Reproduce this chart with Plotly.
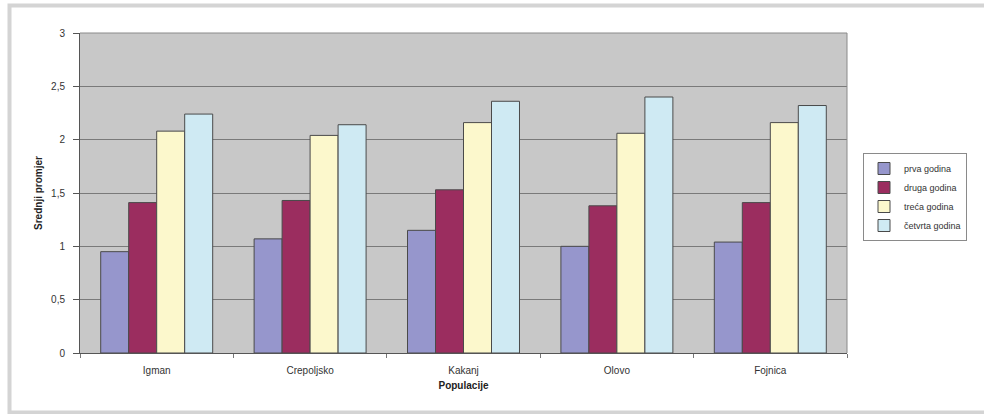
import plotly.graph_objects as go

categories = ["Igman", "Crepoljsko", "Kakanj", "Olovo", "Fojnica"]
series_names = ["prva godina", "druga godina", "treća godina", "četvrta godina"]
prva = [0.95, 1.07, 1.15, 1.00, 1.04]
druga = [1.41, 1.43, 1.53, 1.38, 1.41]
treca = [2.08, 2.04, 2.16, 2.06, 2.16]
cetvrta = [2.24, 2.14, 2.36, 2.40, 2.32]
y_ticks = [0, 0.5, 1, 1.5, 2, 2.5, 3]
y_tick_labels = ["0", "0,5", "1", "1,5", "2", "2,5", "3"]

colors = ["#9696cc", "#9b2d5f", "#fcf8cc", "#cfeaf3"]
values = [prva, druga, treca, cetvrta]

fig = go.Figure()
for name, vals, col in zip(series_names, values, colors):
    fig.add_trace(go.Bar(
        x=categories, y=vals, name=name,
        marker=dict(color=col, line=dict(color="#4a4a4a", width=1)),
    ))

L, R, T, B = 80, 984 - 847, 33, 414 - 353
W, H = 984 - L - R, 414 - T - B

def px(x):
    return (x - L) / W

def py(y):
    return (414 - B - y) / H

fig.update_layout(
    width=984, height=414,
    margin=dict(l=L, r=R, t=T, b=B, pad=0, autoexpand=False),
    paper_bgcolor="white",
    plot_bgcolor="#c8c8c8",
    barmode="group",
    bargap=0.27,
    bargroupgap=0,
    font=dict(family="Liberation Sans, Arial", size=10, color="#222"),
    showlegend=True,
    legend=dict(
        x=px(863), y=py(153), xanchor="left", yanchor="top",
        bgcolor="white", bordercolor="#8a8a8a", borderwidth=1,
        font=dict(size=9, color="#333"),
        itemwidth=30, tracegroupgap=0,
    ),
    xaxis=dict(
        showline=True, linecolor="#555", linewidth=1,
        ticks="outside", tickson="boundaries", ticklen=4, tickcolor="#777",
        ticklabelstandoff=8,
        tickfont=dict(size=10, color="#333"),
        title=dict(text="<b>Populacije</b>", font=dict(size=10, color="#222"), standoff=6),
        mirror=False,
    ),
    yaxis=dict(
        range=[0, 3], tickvals=y_ticks, ticktext=y_tick_labels,
        showgrid=True, gridcolor="#7a7a7a", gridwidth=1,
        showline=True, linecolor="#555", linewidth=1,
        ticks="outside", ticklen=6, tickcolor="#555",
        ticklabelstandoff=6,
        tickfont=dict(size=10, color="#333"),
        zeroline=False,
        title=dict(text="<b>Srednji promjer</b>", font=dict(size=10, color="#222"), standoff=6),
    ),
    shapes=[
        dict(type="line", xref="paper", yref="paper",
             x0=px(847), x1=px(847), y0=py(353), y1=py(33),
             line=dict(color="#8a8a8a", width=1)),
        dict(type="line", xref="paper", yref="paper",
             x0=px(80), x1=px(847), y0=py(33), y1=py(33),
             line=dict(color="#8a8a8a", width=1)),
        dict(type="rect", xref="paper", yref="paper",
             x0=px(9.5), x1=px(1000), y0=py(5.5), y1=py(412.5),
             line=dict(color="#d4d4d4", width=4), layer="below"),
    ],
)

fig.write_html("out.html", config={"displayModeBar": False},
               post_script="document.body.style.margin='0';")
